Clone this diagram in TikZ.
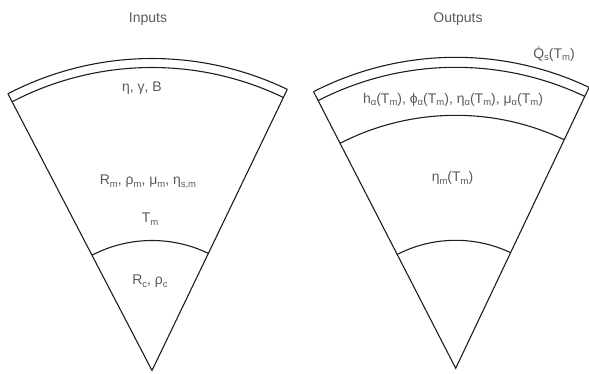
\documentclass[tikz,border=0pt]{standalone}
\usepackage{fontspec}
\setmainfont{Liberation Sans}
\usetikzlibrary{calc}
\newcommand\subs[1]{\raisebox{-0.35ex}{\fontsize{9.5}{10}\selectfont #1}}
\definecolor{txt}{HTML}{5A5A5A}
\definecolor{ln}{HTML}{1E1E1E}
\tikzset{
  lbl/.style={font=\fontsize{14}{16}\selectfont, text=txt, inner sep=0pt, anchor=base},
  wedge/.style={draw=ln, line width=1.1pt, line join=miter}
}
\begin{document}
\begin{tikzpicture}[x=1pt,y=1pt]
\useasboundingbox (0,0) rectangle (589,374);
% left wedge
\coordinate (A) at (152,3.5);
\coordinate (AL) at ($(A)+(117.5:312pt)$);
\coordinate (AR) at ($(A)+(64.3:312pt)$);
\draw[wedge] (AL) -- (A) -- (AR);
\draw[wedge] (AR) arc[start angle=64.3, end angle=117.5, radius=312pt];
\draw[wedge] ($(A)+(64.3:303pt)$) arc[start angle=64.3, end angle=117.5, radius=303pt];
\draw[wedge] ($(A)+(64.3:130pt)$) arc[start angle=64.3, end angle=117.5, radius=130pt];
% right wedge
\coordinate (B) at (455.7,5.7);
\coordinate (BL) at ($(B)+(117.2:311pt)$);
\coordinate (BR) at ($(B)+(64.6:311pt)$);
\draw[wedge] (BL) -- (B) -- (BR);
\draw[wedge] (BR) arc[start angle=64.6, end angle=117.2, radius=311pt];
\draw[wedge] ($(B)+(64.6:301pt)$) arc[start angle=64.6, end angle=117.2, radius=301pt];
\draw[wedge] ($(B)+(64.6:253pt)$) arc[start angle=64.6, end angle=117.2, radius=253pt];
\draw[wedge] ($(B)+(64.6:128pt)$) arc[start angle=64.6, end angle=117.2, radius=128pt];
% labels
\node[lbl] (inputs) at (148,351.5) {Inputs};
\node[lbl] (outputs) at (458,351.5) {Outputs};
\node[lbl] (l1) at (142,282.5) {η, γ, B};
\node[lbl] (l2) at (148,189) {R\subs{m}, ρ\subs{m}, μ\subs{m}, η\subs{s,m}};
\node[lbl] (l3) at (150,151) {T\subs{m}};
\node[lbl] (l4) at (150,89) {R\subs{c}, ρ\subs{c}};
\node[lbl] (r1) at (554,315.7) {\.{Q}\subs{s}(T\subs{m})};
\node[lbl] (r2) at (453,270.7) {h\subs{α}(T\subs{m}), ϕ\subs{α}(T\subs{m}), η\subs{α}(T\subs{m}), μ\subs{α}(T\subs{m})};
\node[lbl] (r3) at (452.5,192.3) {η\subs{m}(T\subs{m})};
\end{tikzpicture}
\end{document}
